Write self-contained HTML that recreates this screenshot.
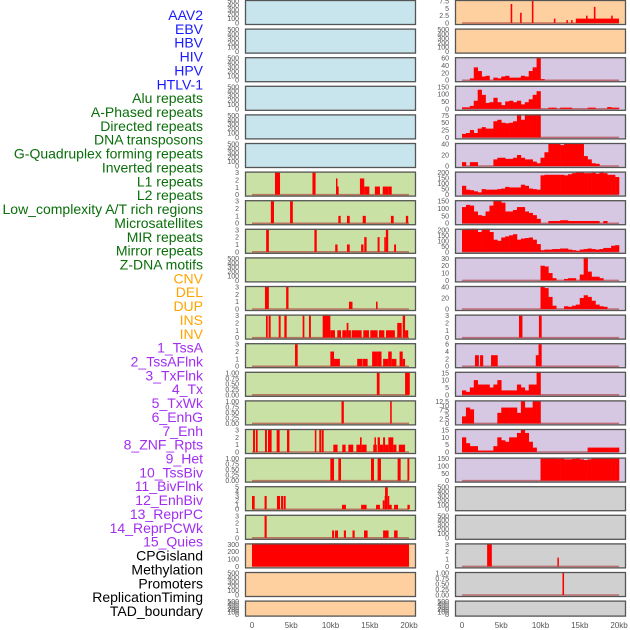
<!DOCTYPE html>
<html><head><meta charset="utf-8">
<style>
html,body{margin:0;padding:0;background:#fff;}
#wrap{position:relative;width:630px;height:630px;overflow:hidden;}
svg text{font-family:"Liberation Sans",sans-serif;}
</style></head>
<body>
<div id="wrap">
<svg id="chart" width="630" height="630" viewBox="0 0 630 630"></svg>
</div>
<script>
// ---- data ----
const trackLabels = ["AAV2","EBV","HBV","HIV","HPV","HTLV-1","Alu repeats","A-Phased repeats","Directed repeats","DNA transposons","G-Quadruplex forming repeats","Inverted repeats","L1 repeats","L2 repeats","Low_complexity A/T rich regions","Microsatellites","MIR repeats","Mirror repeats","Z-DNA motifs","CNV","DEL","DUP","INS","INV","1_TssA","2_TssAFlnk","3_TxFlnk","4_Tx","5_TxWk","6_EnhG","7_Enh","8_ZNF_Rpts","9_Het","10_TssBiv","11_BivFlnk","12_EnhBiv","13_ReprPC","14_ReprPCWk","15_Quies","CPGisland","Methylation","Promoters","ReplicationTiming","TAD_boundary"];
const labelGroups = ["v","v","v","v","v","v","r","r","r","r","r","r","r","r","r","r","r","r","r","s","s","s","s","s","c","c","c","c","c","c","c","c","c","c","c","c","c","c","c","o","o","o","o","o"];
const xTickLabels = ["0","5kb","10kb","15kb","20kb"];
const xTickValues = [0,5,10,15,20];

const ticks500 = [0,100,200,300,400,500];
const ticks3 = [0,1,2,3];
const ticks1 = [0,0.25,0.5,0.75,1.0];

// left column segments [startKb, endKb, value]
const L6 = [[2.93,3.57,3],[7.7,8.1,3],[10.7,10.85,2.2],[10.85,11.0,1.1],[13.75,14.3,2.2],[14.3,14.95,1.1],[15.65,16.3,1.1],[16.65,17.35,1.1],[17.35,17.8,1.1]];
const L7 = [[2.4,2.8,3],[4.85,5.2,3],[11.0,11.3,1],[12.1,12.45,1],[14.1,14.5,1],[17.7,18.05,1],[19.6,19.9,1]];
const L8 = [[1.8,2.15,3],[7.95,8.25,3],[10.6,10.9,1],[12.1,12.45,1],[13.9,14.2,1],[14.3,14.6,2],[16.0,16.25,2],[16.85,17.05,2],[17.05,17.35,3],[18.1,18.35,1]];
const L10 = [[1.65,2.15,3],[4.35,4.65,3],[12.35,12.8,1],[15.8,16.0,1]];
const L11 = [[1.78,2.0,3],[2.12,2.38,3],[3.4,3.65,3],[4.12,4.42,3],[6.45,6.67,3],[7.26,7.5,3],[9.0,9.98,3],[9.98,10.57,1],[10.87,11.34,1],[11.5,12.06,1],[12.06,12.28,2],[12.28,12.6,1],[12.7,13.97,1],[14.18,14.9,1],[15.07,16.0,1],[16.18,16.86,1],[17.07,18.2,1],[18.5,19.07,2],[19.2,19.5,3],[19.5,19.9,1]];
const L12 = [[5.48,5.82,3],[9.98,10.45,2],[10.45,11.2,1],[13.4,14.05,1],[14.1,14.73,1],[15.3,16.0,2],[16.0,16.5,2],[16.7,17.35,1],[17.35,17.8,2],[17.8,18.4,1],[18.8,19.2,2],[19.2,19.5,1]];
const L13 = [[15.9,16.25,1],[19.5,20.1,1]];
const L14 = [[11.4,11.7,1],[17.6,17.8,1]];
const L15 = [[0.13,0.38,3],[0.5,0.72,3],[1.65,1.9,3],[2.04,2.5,3],[3.14,3.52,3],[4.46,4.76,3],[8.0,8.2,3],[8.57,8.8,3],[8.87,9.13,3],[10.36,10.9,1],[11.5,11.93,1],[12.27,12.9,1],[13.3,13.76,1],[13.76,13.97,2],[13.97,14.6,1],[15.45,15.9,1],[15.6,15.75,2],[16.0,16.3,2],[16.3,16.7,1],[16.7,16.95,2],[16.95,17.37,1],[17.37,18.0,2],[18.0,18.4,1],[18.7,19.5,1]];
const L16 = [[9.98,10.45,1],[11.0,11.34,1],[15.16,15.54,1],[16.0,16.43,1],[18.55,18.94,1],[19.8,20.04,1]];
const L17 = [[0.0,0.34,3],[1.6,1.87,3],[3.18,3.57,3],[3.7,3.95,3],[4.03,4.29,3],[11.46,11.97,1],[13.9,14.6,1],[15.8,16.3,1],[16.65,16.9,2],[16.9,16.95,3],[16.95,17.3,5],[17.3,17.45,3],[17.45,17.8,1],[18.1,18.6,1],[19.8,20.1,1]];
const L18 = [[1.6,1.87,3],[10.2,10.45,1],[10.57,10.96,1],[11.7,11.97,1],[12.8,13.08,1],[14.27,14.73,1],[16.7,17.4,1],[18.1,18.55,1]];
const L19 = [[0.0,20.0,340]];

// right column: sparse segments and 0.5kb bin arrays
const R0 = [[6.2,6.4,6.5],[7.4,7.6,3.5],[8.9,9.1,9.5],[11.7,11.9,1.5],[13.3,13.4,1],[13.9,14.0,1],[14.5,20.0,1.5],[15.8,16.0,2.5],[16.8,17.0,5.5],[19.0,19.2,2.5]];
const R2 = [0,0,5,35,25,10,12,0,7,5,10,12,7,7,7,12,10,25,35,62,3,0,0,0,0,0,0,0,0,0,0,0,0,0,0,0,0,0,0,0];
const R3 = [10,10,20,55,130,95,40,45,75,45,25,50,55,45,55,30,45,65,95,120,0,0,8,8,0,8,8,8,0,0,0,0,8,8,0,0,0,12,8,8];
const R4 = [12,15,25,15,30,35,30,30,55,60,50,48,50,55,80,60,80,78,80,90,0,0,0,0,0,0,0,0,0,0,0,0,0,0,0,0,0,0,0,0];
const R5 = [7,0,7,7,0,0,0,0,12,15,15,13,13,15,20,15,12,12,8,5,15,25,40,44,42,38,40,50,55,52,40,18,12,5,4,0,0,0,0,0];
const R6 = [80,45,40,30,20,50,45,45,45,50,55,70,65,65,65,90,80,55,50,45,175,180,180,180,180,180,175,185,195,210,205,195,195,200,190,210,195,180,180,160];
const R7 = [110,125,120,80,55,50,80,120,170,180,140,80,80,90,110,110,80,70,55,30,0,0,15,15,15,20,20,15,15,15,15,15,15,15,15,0,15,0,0,0];
const R8 = [205,215,220,225,180,210,220,180,110,100,130,140,150,160,110,120,125,130,110,70,15,20,20,25,25,30,30,20,15,10,20,25,30,25,20,25,35,35,55,60];
const R9 = [0,0,0,0,0,0,0,0,0,0,0,0,0,0,0,0,0,0,0,0,20,19,10,3,0,0,2,3,3,0,8,33,12,5,5,3,0,0,0,0];
const R10 = [0,0,0,0,0,0,0,0,0,0,0,0,0,0,0,0,0,0,0,0,55,38,22,6,0,0,5,4,6,8,20,25,22,15,8,5,4,0,0,0];
const R11 = [[7.26,7.7,3],[9.8,10.15,3]];
const R12 = [[1.65,2.15,3],[2.3,2.7,3],[3.7,4.55,3],[9.4,9.75,3],[9.75,10.15,6]];
const R13 = [3,2,5,10,7,7,7,5,7,10,3,3,3,3,7,5,3,7,7,16,0,0,0,0,0,0,0,0,0,0,0,0,0,0,0,0,0,0,0,0];
const R14 = [4,9,8,0,0,0,0,0,0,6,9,9,9,9,6,12.5,9,9,12.5,12.5,0,0,0,0,0,0,0,0,0,0,0,0,0,0,0,0,0,0,0,0];
const R15 = [10,6,4,4,1,1,1,1,4,10,8,7,10,10,13,16,13,7,3,0,0,0,0,0,0,0,0,0,0,0,0,0,3,3,3,3,3,3,3,3];
const R16 = [0,0,0,0,0,0,0,0,0,0,0,0,0,0,0,0,0,0,0,0,155,155,155,155,150,150,145,145,148,150,145,140,145,155,165,170,175,175,170,170];
const R19 = [[3.2,3.8,3],[12.15,12.3,1.2]];
const R20 = [[12.8,13.0,1]];

// ---- layout ----
const BLUE="#c8e4ec", GREEN="#c9e1a5", ORANGE="#fed09f", PURPLE="#d6c7e2", GRAY="#d0d0d0";
const groupColors = {v:"#1a1aff", r:"#0a6e0a", s:"#ffa500", c:"#a12ef0", o:"#000000"};

const panels = [
 {c:0,r:0,bg:BLUE,t:ticks500},{c:0,r:1,bg:BLUE,t:ticks500},{c:0,r:2,bg:BLUE,t:ticks500},
 {c:0,r:3,bg:BLUE,t:ticks500},{c:0,r:4,bg:BLUE,t:ticks500},{c:0,r:5,bg:BLUE,t:ticks500},
 {c:0,r:6,bg:GREEN,t:ticks3,segs:L6},{c:0,r:7,bg:GREEN,t:ticks3,segs:L7},{c:0,r:8,bg:GREEN,t:ticks3,segs:L8},
 {c:0,r:9,bg:GREEN,t:ticks500},{c:0,r:10,bg:GREEN,t:ticks3,segs:L10},{c:0,r:11,bg:GREEN,t:ticks3,segs:L11},
 {c:0,r:12,bg:GREEN,t:ticks3,segs:L12},{c:0,r:13,bg:GREEN,t:ticks1,segs:L13},{c:0,r:14,bg:GREEN,t:ticks1,segs:L14},
 {c:0,r:15,bg:GREEN,t:ticks3,segs:L15},{c:0,r:16,bg:GREEN,t:ticks1,segs:L16},{c:0,r:17,bg:GREEN,t:[0,1,2,3,4,5],segs:L17},
 {c:0,r:18,bg:GREEN,t:ticks3,segs:L18},{c:0,r:19,bg:ORANGE,t:[0,100,200,300],segs:L19},
 {c:0,r:20,bg:ORANGE,t:ticks500},{c:0,r:21,bg:ORANGE,t:ticks500},
 {c:1,r:0,bg:ORANGE,t:[0,2.5,5,7.5],segs:R0},{c:1,r:1,bg:ORANGE,t:ticks500},
 {c:1,r:2,bg:PURPLE,t:[0,20,40,60],bins:R2},{c:1,r:3,bg:PURPLE,t:[0,50,100,150],bins:R3},
 {c:1,r:4,bg:PURPLE,t:[0,25,50,75],bins:R4},{c:1,r:5,bg:PURPLE,t:[0,20,40],bins:R5},
 {c:1,r:6,bg:PURPLE,t:[0,50,100,150,200],bins:R6},{c:1,r:7,bg:PURPLE,t:[0,50,100,150],bins:R7},
 {c:1,r:8,bg:PURPLE,t:[0,50,100,150,200],bins:R8},{c:1,r:9,bg:PURPLE,t:[0,10,20,30],bins:R9},
 {c:1,r:10,bg:PURPLE,t:[0,20,40],bins:R10},{c:1,r:11,bg:PURPLE,t:ticks3,segs:R11},
 {c:1,r:12,bg:PURPLE,t:[0,2,4,6],segs:R12},{c:1,r:13,bg:PURPLE,t:[0,5,10,15],bins:R13},
 {c:1,r:14,bg:PURPLE,t:[0,2.5,5,7.5,10,12.5],bins:R14},{c:1,r:15,bg:PURPLE,t:[0,5,10,15],bins:R15},
 {c:1,r:16,bg:PURPLE,t:[0,50,100,150],bins:R16},
 {c:1,r:17,bg:GRAY,t:ticks500},{c:1,r:18,bg:GRAY,t:ticks500},
 {c:1,r:19,bg:GRAY,t:ticks3,segs:R19},{c:1,r:20,bg:GRAY,t:ticks1,segs:R20},{c:1,r:21,bg:GRAY,t:ticks500}
];

const svg = document.getElementById('chart');
const NS = "http://www.w3.org/2000/svg";
function mk(tag, attrs){ const e=document.createElementNS(NS,tag); for(const k in attrs) e.setAttribute(k,attrs[k]); return e; }

const colLeft=[245,455], panelW=171, x0Off=7, kbPx=7.85;
function xScale(col, kb){ return colLeft[col] + x0Off + kb*kbPx; }
function rowTop(r){ return r*28.6; }
function rowH(r){ return r===21 ? 16 : 25; }

// labels
trackLabels.forEach((lab,i)=>{
  const t = mk('text',{x:203,y:20+i*13.86,'text-anchor':'end','font-size':'14',fill:groupColors[labelGroups[i]]});
  t.textContent = lab;
  
  
  svg.appendChild(t);
});

panels.forEach((p,idx)=>{
  const g = mk('g',{});
  
  
  const top=rowTop(p.r), h=rowH(p.r), left=colLeft[p.c];
  const bg = mk('rect',{x:left,y:top,width:panelW,height:h,fill:p.bg});
  
  
  g.appendChild(bg);
  const tmax = p.t[p.t.length-1];
  const y0 = top+h-2, y1 = top+1;
  const yScale = v => y0 - (v/tmax)*(y0-y1);
  const clipId='clip'+idx;
  const cp = mk('clipPath',{id:clipId}); cp.appendChild(mk('rect',{x:left,y:top,width:panelW,height:h})); g.appendChild(cp);
  const bars = mk('g',{'clip-path':'url(#'+clipId+')'});
  const hasData = p.segs || p.bins;
  if(hasData){
    const bl = mk('line',{x1:xScale(p.c,0),x2:xScale(p.c,20),y1:y0,y2:y0,stroke:'#b03030','stroke-width':1.5,'stroke-opacity':0.6});
    
    
    bars.appendChild(bl);
  }
  if(p.segs){
    p.segs.forEach(s=>{
      const xa=xScale(p.c,s[0]), xb=xScale(p.c,s[1]), yv=yScale(s[2]);
      const r = mk('rect',{x:xa,y:yv,width:Math.max(1.5,xb-xa),height:y0-yv,fill:'#ff0000'});
      
      
      bars.appendChild(r);
    });
  }
  if(p.bins){
    p.bins.forEach((v,i)=>{
      if(v<=0) return;
      const xa=xScale(p.c,i*0.5), xb=xScale(p.c,(i+1)*0.5), yv=yScale(v);
      const r = mk('rect',{x:xa,y:yv,width:xb-xa+0.3,height:y0-yv,fill:'#ff0000'});
      
      
      bars.appendChild(r);
    });
  }
  g.appendChild(bars);
  const border = mk('rect',{x:left+0.5,y:top+0.5,width:panelW-1,height:h-1,fill:'none',stroke:'#555','stroke-width':1.3});
  
  
  g.appendChild(border);
  p.t.forEach(tv=>{
    const tt = mk('text',{x:left-6,y:yScale(tv)+2.5,'text-anchor':'end','font-size':'7',fill:'#555'});
    tt.textContent = (tmax===1 ? tv.toFixed(2) : String(tv));
    
    
    g.appendChild(tt);
  });
  svg.appendChild(g);
});

// x axes
[0,1].forEach(c=>{
  xTickValues.forEach((v,i)=>{
    const t = mk('text',{x:xScale(c,v),y:628,'text-anchor':'middle','font-size':'8',fill:'#555'});
    t.textContent = xTickLabels[i];
    
    
    svg.appendChild(t);
  });
});
</script>
</body></html>
